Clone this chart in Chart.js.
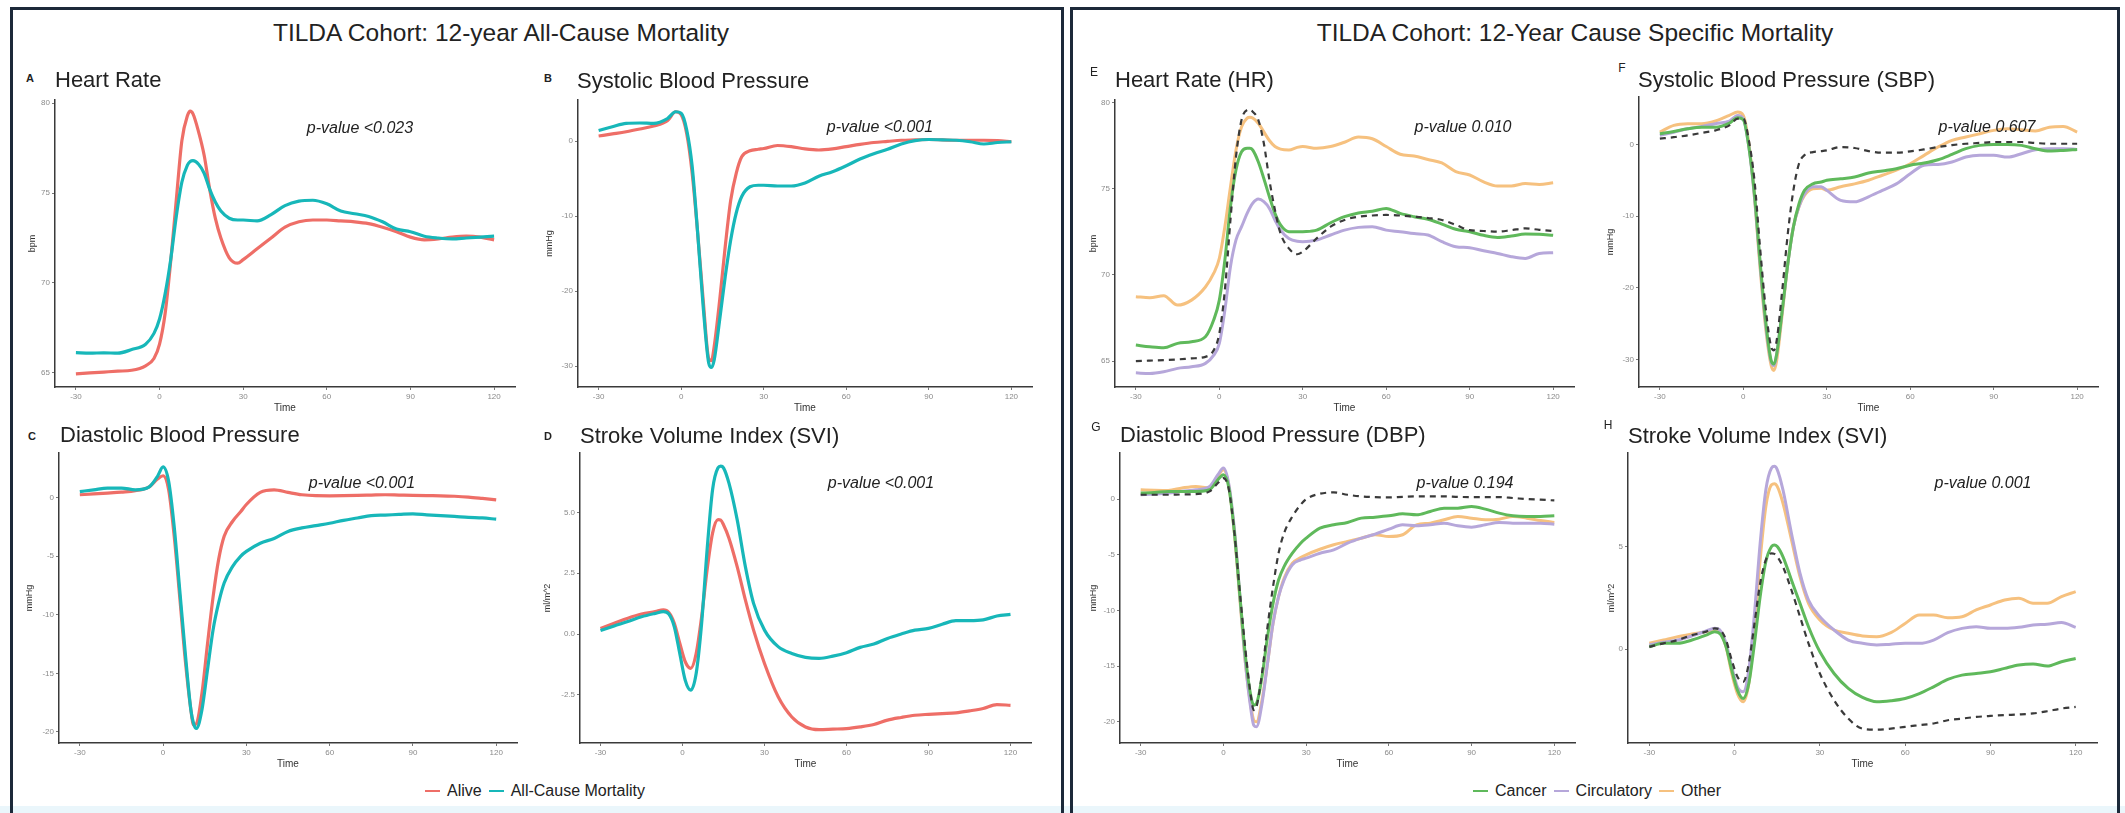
<!DOCTYPE html>
<html>
<head>
<meta charset="utf-8">
<script src="https://cdn.jsdelivr.net/npm/chart.js@4.4.1/dist/chart.umd.min.js"></script>
<style>
  html, body { margin: 0; padding: 0; }
  body { width: 2125px; height: 813px; position: relative; overflow: hidden; background: #fff;
         font-family: 'Liberation Sans', Arial, sans-serif; color: #222; }
  .strip { position: absolute; left: 0; top: 806px; width: 2125px; height: 7px; background: #eaf6fb; }
  .panel { position: absolute; top: 7px; height: 820px; border: 3px solid #1c2939; box-sizing: border-box; z-index: 3; }
  canvas { position: absolute; z-index: 1; }
  .txt { position: absolute; white-space: nowrap; z-index: 2; }
  .main { font-size: 24.5px; transform: translate(-50%, -50%); }
  .sub { font-size: 22px; transform: translateY(-50%); }
  .tag { font-size: 11px; font-weight: bold; transform: translate(-50%, -50%); }
  .pv { font-size: 16px; font-style: italic; transform: translate(-50%, -50%); }
  .legend { position: absolute; display: flex; align-items: center; font-size: 16px; transform: translateY(-50%); z-index: 2; }
  .legend .key { width: 15px; height: 2px; margin: 0 7px 0 0; }
  .legend .lab { margin-right: 7px; }
</style>
</head>
<body>
<div class="strip"></div>
<div class="panel" style="left:10px; width:1054px;"></div>
<div class="panel" style="left:1070px; width:1050px;"></div>

<div class="txt main" style="left:501px; top:33px;">TILDA Cohort: 12-year All-Cause Mortality</div>
<div class="txt main" style="left:1575px; top:33px;">TILDA Cohort: 12-Year Cause Specific Mortality</div>

<div class="txt tag" style="left:30px; top:78px;">A</div>
<div class="txt sub" style="left:55px; top:80px;">Heart Rate</div>
<div class="txt tag" style="left:548px; top:78px;">B</div>
<div class="txt sub" style="left:577px; top:81px;">Systolic Blood Pressure</div>
<div class="txt tag" style="left:32px; top:436px;">C</div>
<div class="txt sub" style="left:60px; top:435px;">Diastolic Blood Pressure</div>
<div class="txt tag" style="left:548px; top:436px;">D</div>
<div class="txt sub" style="left:580px; top:436px;">Stroke Volume Index (SVI)</div>

<div class="txt tag" style="left:1094px; top:72px; font-weight:normal; font-size:12px;">E</div>
<div class="txt sub" style="left:1115px; top:80px;">Heart Rate (HR)</div>
<div class="txt tag" style="left:1622px; top:68px; font-weight:normal; font-size:12px;">F</div>
<div class="txt sub" style="left:1638px; top:80px;">Systolic Blood Pressure (SBP)</div>
<div class="txt tag" style="left:1096px; top:427px; font-weight:normal; font-size:12px;">G</div>
<div class="txt sub" style="left:1120px; top:435px;">Diastolic Blood Pressure (DBP)</div>
<div class="txt tag" style="left:1608px; top:425px; font-weight:normal; font-size:12px;">H</div>
<div class="txt sub" style="left:1628px; top:436px;">Stroke Volume Index (SVI)</div>

<div class="txt pv" style="left:360px; top:128px;">p-value &lt;0.023</div>
<div class="txt pv" style="left:880px; top:127px;">p-value &lt;0.001</div>
<div class="txt pv" style="left:362px; top:483px;">p-value &lt;0.001</div>
<div class="txt pv" style="left:881px; top:483px;">p-value &lt;0.001</div>
<div class="txt pv" style="left:1463px; top:127px;">p-value 0.010</div>
<div class="txt pv" style="left:1987px; top:127px;">p-value 0.607</div>
<div class="txt pv" style="left:1465px; top:483px;">p-value 0.194</div>
<div class="txt pv" style="left:1983px; top:483px;">p-value 0.001</div>

<div class="legend" id="legendLeft" style="left:425px; top:791px;"></div>
<div class="legend" id="legendRight" style="left:1473px; top:791px;"></div>

<canvas id="cA"></canvas><canvas id="cB"></canvas><canvas id="cC"></canvas><canvas id="cD"></canvas>
<canvas id="cE"></canvas><canvas id="cF"></canvas><canvas id="cG"></canvas><canvas id="cH"></canvas>

<script>
// time in seconds relative to stand
const times = [-30,-25,-20,-15,-10,-5,-2,0,2,4,6,8,10,11,12,14,16,18,20,22,25,28,30,35,40,45,50,55,60,65,70,75,80,85,90,95,100,105,110,115,120];
const timesSvi = [-30,-25,-20,-15,-10,-7,-5,-3,-1,1,3,5,7,9,11,13,14,15,17,20,23,26,30,35,40,45,50,55,60,65,70,75,80,85,90,95,100,105,110,115,120];

// A - heart rate (bpm)
const hrAlive = [64.95,65.0,65.05,65.1,65.15,65.4,65.8,66.6,68.3,71.2,74.6,77.9,79.3,79.55,79.4,78.4,77.1,75.2,73.6,72.5,71.4,71.1,71.3,71.9,72.5,73.1,73.4,73.5,73.5,73.45,73.4,73.3,73.1,72.85,72.55,72.4,72.45,72.55,72.6,72.55,72.4];
const hrDeceased = [66.13,66.1,66.12,66.1,66.3,66.6,67.2,68.0,69.4,71.3,73.7,75.6,76.55,76.75,76.8,76.6,76.1,75.2,74.5,74.0,73.6,73.5,73.5,73.45,73.8,74.3,74.55,74.6,74.4,74.0,73.85,73.7,73.4,73.0,72.85,72.6,72.5,72.45,72.5,72.55,72.6];
// B - systolic (mmHg)
const sbpAlive = [0.67,0.95,1.24,1.6,2.0,2.7,3.9,3.5,1.0,-4.3,-12.3,-21.2,-29.0,-29.3,-27.4,-21.2,-14.1,-7.9,-4.3,-2.1,-1.3,-1.1,-1.0,-0.6,-0.75,-1.05,-1.2,-1.05,-0.75,-0.45,-0.2,-0.05,0.1,0.15,0.2,0.15,0.1,0.1,0.1,0.05,-0.1];
const sbpDeceased = [1.4,1.9,2.35,2.4,2.35,3.0,3.9,3.7,1.5,-3.4,-12.3,-22.1,-29.6,-30.2,-29.2,-23.8,-18.1,-13.2,-9.6,-7.4,-6.1,-5.9,-5.9,-6.0,-6.0,-5.6,-4.7,-4.1,-3.3,-2.4,-1.7,-1.1,-0.4,0.05,0.2,0.15,0.1,-0.1,-0.4,-0.2,-0.1];
// C - diastolic (mmHg)
const dbpAlive = [0.23,0.3,0.37,0.45,0.57,0.9,1.57,1.85,0.65,-3.3,-8.5,-13.9,-18.1,-19.4,-19.3,-16.7,-12.5,-8.5,-5.3,-3.3,-2.05,-1.2,-0.6,0.43,0.65,0.43,0.23,0.15,0.14,0.15,0.17,0.2,0.23,0.2,0.17,0.15,0.14,0.1,0.03,-0.08,-0.2];
const dbpDeceased = [0.5,0.65,0.8,0.8,0.65,0.9,1.8,2.6,1.37,-2.5,-7.9,-13.3,-18.1,-19.3,-19.7,-18.1,-14.7,-11.3,-9.0,-7.3,-5.9,-5.0,-4.6,-3.9,-3.5,-2.9,-2.6,-2.4,-2.2,-1.95,-1.75,-1.55,-1.5,-1.45,-1.4,-1.48,-1.55,-1.62,-1.7,-1.75,-1.85];
// D - stroke volume index (ml/m^2)
const sviAlive = [0.23,0.44,0.65,0.82,0.92,0.99,0.88,0.44,-0.38,-1.14,-1.41,-0.8,0.71,2.64,4.15,4.7,4.68,4.49,3.94,2.77,1.4,0.16,-1.21,-2.58,-3.41,-3.82,-3.93,-3.91,-3.89,-3.82,-3.72,-3.54,-3.43,-3.34,-3.3,-3.27,-3.24,-3.16,-3.06,-2.9,-2.93];
const sviDeceased = [0.14,0.33,0.51,0.71,0.85,0.92,0.82,0.3,-0.8,-1.9,-2.31,-1.62,0.44,3.46,5.93,6.83,6.9,6.83,6.2,4.7,2.77,1.26,0.16,-0.52,-0.8,-0.96,-1.0,-0.91,-0.77,-0.55,-0.41,-0.18,0.0,0.16,0.23,0.4,0.55,0.55,0.58,0.74,0.81];

// E - heart rate by cause
const hrCancer = [65.93,65.83,65.77,66.03,66.12,66.41,67.4,68.54,70.87,73.96,76.1,77.15,77.35,77.35,77.25,76.57,75.6,74.54,73.57,72.9,72.51,72.5,72.51,72.6,73.03,73.38,73.6,73.7,73.86,73.57,73.38,73.23,72.95,72.65,72.51,72.3,72.18,72.26,72.37,72.36,72.3];
const hrCirculatory = [64.32,64.28,64.38,64.58,64.67,64.87,65.35,66.03,67.96,70.48,72.03,72.8,73.57,73.9,74.16,74.4,74.25,73.86,73.19,72.6,72.12,71.95,71.93,72.03,72.32,72.6,72.76,72.8,72.6,72.51,72.4,72.32,71.93,71.64,71.58,71.4,71.25,71.06,70.96,71.25,71.29];
const hrOther = [68.74,68.68,68.8,68.25,68.54,69.3,70.1,70.96,72.8,75.1,77.25,78.6,79.1,79.15,79.1,78.8,78.3,77.8,77.45,77.3,77.25,77.4,77.45,77.35,77.45,77.7,78.0,77.9,77.45,77.0,76.9,76.7,76.5,76.0,75.8,75.4,75.16,75.16,75.3,75.25,75.35];
const hrAliveRef = [65.0,65.03,65.06,65.1,65.16,65.25,65.64,66.6,69.12,73.19,76.86,79.0,79.57,79.6,79.47,79.0,77.64,75.51,73.77,72.41,71.54,71.2,71.35,72.12,72.8,73.19,73.38,73.45,73.48,73.45,73.38,73.3,73.19,72.9,72.6,72.55,72.51,72.6,72.7,72.62,72.55];
// F - systolic by cause
const sbpCancer = [1.49,1.8,2.18,2.4,2.4,2.97,3.72,3.44,-0.37,-6.9,-16.2,-24.5,-30.1,-30.6,-29.2,-23.1,-16.6,-11.5,-8.3,-6.4,-5.5,-5.25,-5.0,-4.8,-4.55,-4.0,-3.7,-3.4,-2.9,-2.6,-2.14,-1.4,-0.6,-0.14,0,0,-0.14,-0.6,-0.93,-0.84,-0.7];
const sbpCirculatory = [1.25,1.7,2.18,2.5,2.88,3.25,4.04,3.58,-0.37,-7.3,-16.6,-25.0,-30.3,-30.8,-29.2,-23.1,-16.6,-11.5,-8.7,-6.9,-5.9,-5.9,-6.4,-7.8,-8.0,-7.3,-6.4,-5.5,-4.1,-2.9,-2.8,-2.46,-1.77,-1.53,-1.53,-1.77,-1.3,-0.74,-0.6,-0.6,-0.7];
const sbpOther = [1.72,2.65,2.88,2.88,3.25,4.04,4.5,4.04,0.1,-7.3,-17.1,-25.5,-30.8,-31.5,-30.1,-23.6,-16.6,-11.5,-8.7,-7.1,-6.2,-6.1,-6.4,-5.9,-5.5,-5.0,-4.3,-3.6,-2.7,-1.53,-0.37,0.56,1.02,1.49,1.95,2.18,2.04,1.86,2.4,2.5,1.72];
const sbpAliveRef = [0.79,1.0,1.25,1.6,1.95,2.65,3.58,3.58,0.56,-5.0,-14.3,-22.7,-28.2,-28.7,-27.3,-20.3,-12.4,-6.4,-2.7,-1.5,-1.07,-0.95,-0.84,-0.37,-0.5,-0.93,-1.16,-1.16,-0.98,-0.7,-0.37,-0.1,0.09,0.2,0.33,0.33,0.33,0.2,0.09,0.09,0.09];
// G - diastolic by cause
const dbpCancer = [0.54,0.6,0.69,0.69,0.69,0.84,1.74,2.19,0.99,-3.06,-8.76,-14.15,-17.75,-18.5,-18.35,-15.95,-12.35,-9.36,-7.26,-6.06,-4.86,-3.96,-3.51,-2.61,-2.31,-2.1,-1.71,-1.62,-1.5,-1.32,-1.41,-1.11,-0.81,-0.81,-0.66,-0.9,-1.26,-1.5,-1.56,-1.56,-1.5];
const dbpCirculatory = [0.39,0.45,0.54,0.7,0.84,1.14,2.19,2.79,1.29,-2.76,-8.76,-14.75,-18.95,-20.3,-20.45,-18.35,-14.75,-11.15,-8.76,-7.26,-5.9,-5.46,-5.3,-4.86,-4.56,-3.96,-3.51,-3.15,-2.7,-2.31,-2.4,-2.31,-2.16,-2.4,-2.52,-2.31,-2.1,-2.16,-2.16,-2.16,-2.25];
const dbpOther = [0.84,0.8,0.78,1.0,1.14,0.99,2.04,2.64,1.14,-3.06,-9.06,-14.75,-18.65,-19.85,-20.0,-18.05,-14.75,-11.15,-8.76,-7.1,-5.76,-5.25,-5.0,-4.5,-4.1,-3.8,-3.51,-3.2,-3.36,-3.2,-2.31,-2.16,-1.86,-1.56,-1.71,-1.86,-1.8,-1.56,-1.71,-1.92,-2.1];
const dbpAliveRef = [0.39,0.39,0.39,0.42,0.45,0.69,1.44,1.89,0.84,-3.06,-8.46,-13.55,-17.75,-18.95,-18.65,-15.65,-11.45,-7.86,-4.86,-3.06,-1.56,-0.51,0,0.48,0.6,0.39,0.24,0.18,0.15,0.2,0.24,0.24,0.24,0.2,0.18,0.18,0.18,0.1,0,-0.05,-0.12];
// H - stroke volume index by cause
const sviCancer = [0.11,0.28,0.28,0.44,0.68,0.85,0.73,0.11,-1.03,-2.0,-2.41,-1.68,0.28,2.56,4.27,5.0,5.08,5.0,4.51,3.37,2.23,1.09,-0.13,-1.19,-1.92,-2.36,-2.57,-2.52,-2.41,-2.17,-1.84,-1.48,-1.27,-1.19,-1.11,-0.94,-0.78,-0.73,-0.83,-0.62,-0.46];
const sviCirculatory = [0.2,0.33,0.44,0.64,0.88,1.01,0.9,0.28,-0.86,-1.84,-2.08,-1.03,1.74,5.16,7.77,8.83,8.91,8.75,7.77,5.65,3.7,2.39,1.58,0.93,0.44,0.28,0.2,0.24,0.28,0.28,0.44,0.8,1.01,1.09,1.01,1.01,1.06,1.17,1.21,1.29,1.06];
const sviOther = [0.28,0.44,0.6,0.73,0.85,0.93,0.8,0.11,-1.19,-2.17,-2.57,-1.68,0.93,4.35,6.95,8.01,8.06,7.93,7.12,5.33,3.53,2.23,1.42,0.93,0.77,0.64,0.6,0.8,1.25,1.66,1.66,1.53,1.58,1.91,2.15,2.39,2.48,2.23,2.23,2.56,2.8];
const sviAliveRef = [0.11,0.28,0.44,0.68,0.85,1.01,0.93,0.44,-0.54,-1.35,-1.6,-0.7,1.25,3.21,4.35,4.67,4.64,4.51,4.02,2.88,1.58,0.28,-1.19,-2.49,-3.39,-3.88,-3.93,-3.88,-3.79,-3.71,-3.63,-3.47,-3.39,-3.31,-3.26,-3.22,-3.19,-3.14,-3.03,-2.9,-2.82];

// tick labels
const ticksTime = [-30, 0, 30, 60, 90, 120];
const ticksHR = [65, 70, 75, 80];
const ticksSBP = [-30, -20, -10, 0];
const ticksDBP = [-20, -15, -10, -5, 0];
const ticksSVI = [-2.5, 0, 2.5, 5];
const ticksSVI2 = [0, 5];

const groupsLeft = ['Alive', 'All-Cause Mortality'];
const groupsRight = ['Cancer', 'Circulatory', 'Other'];

const colAlive = '#ee6e67';
const colDead = '#17b7b9';
const colCancer = '#5fb95b';
const colCirc = '#b6a7da';
const colOther = '#f6c17f';
const colRef = '#3a3a3a';

Chart.defaults.font.family = "'Liberation Sans', Arial, sans-serif";
Chart.defaults.animation = false;

function line(label, t, vals, color, width, dash) {
  return {
    label: label,
    data: t.map((x, i) => ({ x: x, y: vals[i] })),
    borderColor: color,
    borderWidth: width,
    borderDash: dash || [],
    pointRadius: 0,
    fill: false,
    cubicInterpolationMode: 'monotone'
  };
}

// plot box = axis lines position on the page
function plot(id, box, yMin, yMax, yTicks, yTitle, yGap, datasets, fmt) {
  const padTop = 10, padRight = 10, xH = 27;
  const yW = yGap + 5;
  const cv = document.getElementById(id);
  cv.width = (box.r - box.l) + yW + padRight;
  cv.height = (box.b - box.t) + padTop + xH;
  cv.style.left = (box.l - yW) + 'px';
  cv.style.top = (box.t - padTop) + 'px';
  datasets.forEach((d, i) => { d.order = datasets.length - i; });
  return new Chart(cv.getContext('2d'), {
    type: 'line',
    data: { datasets: datasets },
    options: {
      responsive: false,
      layout: { padding: { top: padTop, right: padRight, left: 0, bottom: 0 } },
      plugins: { legend: { display: false }, tooltip: { enabled: false } },
      scales: {
        x: {
          type: 'linear', min: -37.5, max: 127.5,
          afterFit: s => { s.height = xH; },
          afterBuildTicks: s => { s.ticks = ticksTime.map(v => ({ value: v })); },
          grid: { drawOnChartArea: false, drawTicks: true, tickLength: 3, tickColor: '#777' },
          border: { display: true, color: '#3a3a3a', width: 1.5 },
          ticks: { color: '#8a8a8a', font: { size: 8 }, padding: 2, maxRotation: 0 },
          title: { display: true, text: 'Time', color: '#333', font: { size: 10 }, padding: 0 }
        },
        y: {
          min: yMin, max: yMax,
          afterFit: s => { s.width = yW; },
          afterBuildTicks: s => { s.ticks = yTicks.map(v => ({ value: v })); },
          grid: { drawOnChartArea: false, drawTicks: true, tickLength: 3, tickColor: '#777' },
          border: { display: true, color: '#3a3a3a', width: 1.5 },
          ticks: { color: '#8a8a8a', font: { size: 8 }, padding: 2, callback: fmt || (v => v) },
          title: { display: true, text: yTitle, color: '#333', font: { size: 9 }, padding: 0 }
        }
      }
    }
  });
}

plot('cA', { l: 55, r: 515, t: 100, b: 387 }, 64.22, 80.17, ticksHR, 'bpm', 23, [
  line(groupsLeft[0], times, hrAlive, colAlive, 3.2),
  line(groupsLeft[1], times, hrDeceased, colDead, 3.2)
]);
plot('cB', { l: 578, r: 1032, t: 100, b: 387 }, -32.8, 5.47, ticksSBP, 'mmHg', 29, [
  line(groupsLeft[0], times, sbpAlive, colAlive, 3.2),
  line(groupsLeft[1], times, sbpDeceased, colDead, 3.2)
]);
plot('cC', { l: 59, r: 517, t: 453, b: 743 }, -20.94, 3.79, ticksDBP, 'mmHg', 30, [
  line(groupsLeft[0], times, dbpAlive, colAlive, 3.2),
  line(groupsLeft[1], times, dbpDeceased, colDead, 3.2)
]);
plot('cD', { l: 580, r: 1031, t: 453, b: 743 }, -4.48, 7.44, ticksSVI, 'ml/m^2', 33, [
  line(groupsLeft[0], timesSvi, sviAlive, colAlive, 3.2),
  line(groupsLeft[1], timesSvi, sviDeceased, colDead, 3.2)
], v => v.toFixed(1));

plot('cE', { l: 1115, r: 1574, t: 100, b: 387 }, 63.5, 80.15, ticksHR, 'bpm', 22, [
  line(groupsRight[2], times, hrOther, colOther, 3),
  line(groupsRight[1], times, hrCirculatory, colCirc, 3),
  line(groupsRight[0], times, hrCancer, colCancer, 3),
  line('Alive', times, hrAliveRef, colRef, 2.2, [6, 5])
]);
plot('cF', { l: 1639, r: 2098, t: 97, b: 387 }, -33.8, 6.6, ticksSBP, 'mmHg', 29, [
  line(groupsRight[2], times, sbpOther, colOther, 3),
  line(groupsRight[1], times, sbpCirculatory, colCirc, 3),
  line(groupsRight[0], times, sbpCancer, colCancer, 3),
  line('Alive', times, sbpAliveRef, colRef, 2.2, [6, 5])
]);
plot('cG', { l: 1120, r: 1575, t: 453, b: 743 }, -21.9, 4.14, ticksDBP, 'mmHg', 27, [
  line(groupsRight[2], times, dbpOther, colOther, 3),
  line(groupsRight[1], times, dbpCirculatory, colCirc, 3),
  line(groupsRight[0], times, dbpCancer, colCancer, 3),
  line('Alive', times, dbpAliveRef, colRef, 2.2, [6, 5])
]);
plot('cH', { l: 1628, r: 2097, t: 453, b: 743 }, -4.58, 9.56, ticksSVI2, 'ml/m^2', 17, [
  line(groupsRight[2], timesSvi, sviOther, colOther, 3),
  line(groupsRight[1], timesSvi, sviCirculatory, colCirc, 3),
  line(groupsRight[0], timesSvi, sviCancer, colCancer, 3),
  line('Alive', timesSvi, sviAliveRef, colRef, 2.2, [6, 5])
]);

function legend(id, names, colors) {
  const el = document.getElementById(id);
  names.forEach((n, i) => {
    const k = document.createElement('span');
    k.className = 'key';
    k.style.background = colors[i];
    const l = document.createElement('span');
    l.className = 'lab';
    l.textContent = n;
    el.appendChild(k);
    el.appendChild(l);
  });
}
legend('legendLeft', groupsLeft, [colAlive, colDead]);
legend('legendRight', groupsRight, [colCancer, colCirc, colOther]);
</script>
</body>
</html>
